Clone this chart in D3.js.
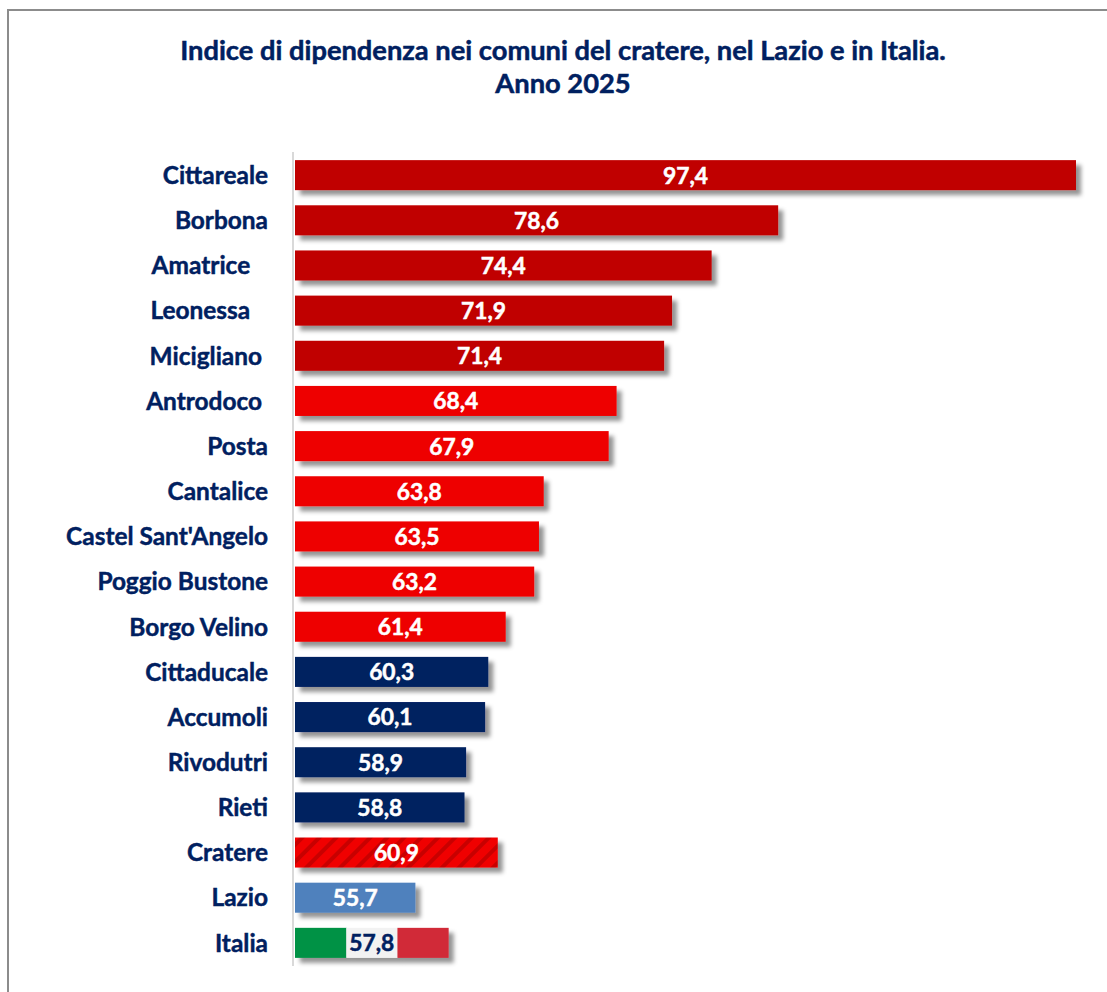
<!DOCTYPE html>
<html><head><meta charset="utf-8">
<script src="https://cdn.jsdelivr.net/npm/d3@7/dist/d3.min.js"></script>
<style>
html,body{margin:0;padding:0;background:#fff;}
text{font-family:Lato,"Open Sans",sans-serif;font-weight:bold;white-space:pre;}
</style></head>
<body>
<svg id="c" width="1107" height="992"></svg>
<script>
const categories = ["Cittareale","Borbona","Amatrice   ","Leonessa   ","Micigliano ","Antrodoco ","Posta","Cantalice","Castel Sant'Angelo","Poggio Bustone","Borgo Velino","Cittaducale","Accumoli","Rivodutri","Rieti","Cratere","Lazio","Italia"];
const values = [97.4,78.6,74.4,71.9,71.4,68.4,67.9,63.8,63.5,63.2,61.4,60.3,60.1,58.9,58.8,60.9,55.7,57.8];
const groups = ["dark","dark","dark","dark","dark","red","red","red","red","red","red","navy","navy","navy","navy","cratere","lazio","italia"];
const titleLines = ["Indice di dipendenza nei comuni del cratere, nel Lazio e in Italia.","Anno 2025"];

const colors = {dark:"#c00000", red:"#ee0000", navy:"#002060", cratere:"url(#stripes)", lazio:"#4f81bd"};
const navy = "#002060";

const svg = d3.select("#c");
const defs = svg.append("defs");
const f = defs.append("filter").attr("id","sh").attr("x","-5%").attr("y","-30%").attr("width","115%").attr("height","180%");
f.append("feDropShadow").attr("dx",5).attr("dy",5).attr("stdDeviation",2.2).attr("flood-color","#000").attr("flood-opacity",0.42);
const pat = defs.append("pattern").attr("id","stripes").attr("patternUnits","userSpaceOnUse")
  .attr("width",12).attr("height",12).attr("patternTransform","rotate(45)");
pat.append("rect").attr("width",12).attr("height",12).attr("fill","#f00000");
pat.append("rect").attr("width",4).attr("height",12).attr("fill","#c80000");

// frame
svg.append("rect").attr("x",8).attr("y",10).attr("width",1110).attr("height",1000)
  .attr("fill","none").attr("stroke","#8c8c8c").attr("stroke-width",2);

// title
const title = svg.append("text").attr("text-anchor","middle").attr("fill",navy).attr("font-size",22)
  .attr("stroke",navy).attr("stroke-width",0.5);
titleLines.forEach((t,i)=>title.append("tspan").attr("x",563).attr("y",[60,93][i]).text(t));
const tl = title.select("tspan").node().getComputedTextLength();
title.attr("font-size",22*766/tl);

const x = d3.scaleLinear().domain([48.1,97.4]).range([295,1076]);
const y = d3.scaleBand().domain(d3.range(categories.length)).range([152,966]).paddingInner(0.335).paddingOuter(0.18);

// axis line
svg.append("line").attr("x1",293).attr("x2",293).attr("y1",152).attr("y2",966)
  .attr("stroke","#d9d9d9").attr("stroke-width",2);

const g = svg.append("g");
values.forEach((v,i)=>{
  const y0 = y(i), h = y.bandwidth(), x0 = x(48.1), w = x(v)-x0;
  const bg = g.append("g").attr("filter","url(#sh)");
  if(groups[i]==="italia"){
    const c3 = ["#009245","#f2f2f2","#d12b38"];
    c3.forEach((c,k)=>bg.append("rect").attr("x",x0+w*k/3).attr("y",y0).attr("width",w/3+(k<2?0.5:0)).attr("height",h).attr("fill",c));
  } else {
    bg.append("rect").attr("x",x0).attr("y",y0).attr("width",w).attr("height",h).attr("fill",colors[groups[i]]);
  }
});

// category labels
const labels = svg.append("g").attr("fill",navy).attr("stroke",navy).attr("stroke-width",0.45).attr("text-anchor","end");
labels.selectAll("text").data(categories).join("text")
  .attr("x",268).attr("y",(d,i)=>y(i)+y.bandwidth()/2).attr("dy","0.36em").attr("font-size",20).text(d=>d);
const ref = labels.selectAll("text").filter(d=>d==="Castel Sant'Angelo").node().getComputedTextLength();
labels.selectAll("text").attr("font-size",20*202/ref);

// value labels
const vl = svg.append("g").attr("text-anchor","middle").selectAll("text").data(values).join("text")
  .attr("x",(d)=>(x(48.1)+x(d))/2).attr("y",(d,i)=>y(i)+y.bandwidth()/2).attr("dy","0.37em")
  .attr("font-size",20).attr("fill",(d,i)=>groups[i]==="italia"?navy:"#fff")
  .attr("stroke",(d,i)=>groups[i]==="italia"?navy:"#fff").attr("stroke-width",0.5)
  .text(d=>d.toFixed(1).replace(".",","));
const vw = vl.nodes()[0].getComputedTextLength();
vl.attr("font-size",20*45/vw);
</script>
</body></html>
